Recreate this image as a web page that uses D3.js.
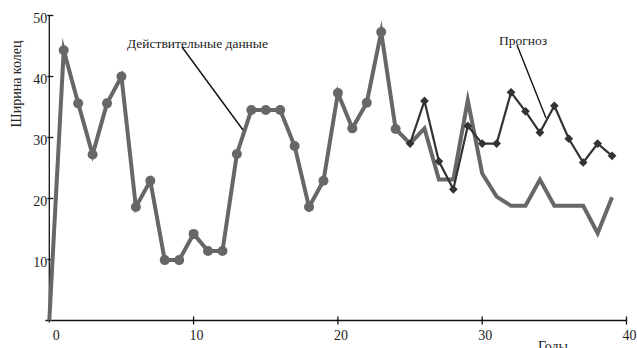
<!DOCTYPE html>
<html>
<head>
<meta charset="utf-8">
<script src="https://cdn.jsdelivr.net/npm/d3@7"></script>
<style>
  body { margin: 0; background: #fff; }
  svg { display: block; font-family: "Liberation Serif", "DejaVu Serif", serif; }
</style>
</head>
<body>
<div id="app"></div>
<script>
// фактические данные (годы 0..39), точки только до 24
const actualYears = d3.range(0, 40);
const actualValues = [0, 44.3, 35.6, 27.2, 35.6, 40.0, 18.6, 22.9, 9.9, 9.9,
  14.2, 11.4, 11.4, 27.3, 34.5, 34.5, 34.5, 28.6, 18.6, 22.9,
  37.3, 31.5, 35.7, 47.3, 31.4, 29.0, 31.5, 23.1, 23.1, 36.1,
  24.1, 20.3, 18.8, 18.8, 23.1, 18.8, 18.8, 18.8, 14.3, 20.2];
const markedUntil = 24;

// прогноз
const forecastYears = d3.range(25, 40);
const forecastValues = [29.0, 36.0, 26.1, 21.5, 31.9, 29.0, 29.0, 37.4, 34.3, 30.8,
  35.2, 29.8, 25.9, 29.0, 27.0];

const xTicks = [10, 20, 30, 40];
const yTicks = [10, 20, 30, 40, 50];
const xTickLabels = ["0", "10", "20", "30", "40"];

const width = 637, height = 348;
const margin = { top: 15.5, right: 10.5, bottom: 27.5, left: 49.3 };

const svg = d3.select("#app").append("svg")
  .attr("width", width)
  .attr("height", height);

const x = d3.scaleLinear().domain([0, 40]).range([margin.left, width - margin.right]);
const y = d3.scaleLinear().domain([0, 50]).range([height - margin.bottom, margin.top]);

const actual = actualYears.map((yr, i) => ({ x: yr, y: actualValues[i] }));
const forecast = forecastYears.map((yr, i) => ({ x: yr, y: forecastValues[i] }));

// оси
const axisColor = "#111";
svg.append("line")
  .attr("x1", x(0) - 4).attr("x2", x(40))
  .attr("y1", y(0)).attr("y2", y(0))
  .attr("stroke", axisColor).attr("stroke-width", 1.3);
svg.append("line")
  .attr("x1", x(0)).attr("x2", x(0))
  .attr("y1", y(50)).attr("y2", y(0) + 2)
  .attr("stroke", axisColor).attr("stroke-width", 1.3);

xTicks.forEach(t => {
  svg.append("line")
    .attr("x1", x(t)).attr("x2", x(t))
    .attr("y1", y(0) - 4).attr("y2", y(0) + 4)
    .attr("stroke", axisColor).attr("stroke-width", 1.3);
});
[0].concat(xTicks).forEach((t, i) => {
  svg.append("text")
    .attr("x", x(t) + (t === 0 ? 7 : 3))
    .attr("y", 340)
    .attr("text-anchor", "middle")
    .attr("font-size", 14)
    .attr("fill", "#222")
    .text(xTickLabels[i]);
});

yTicks.forEach(t => {
  svg.append("line")
    .attr("x1", x(0) - 2).attr("x2", x(0) + 4)
    .attr("y1", y(t)).attr("y2", y(t))
    .attr("stroke", axisColor).attr("stroke-width", 1.3);
  svg.append("text")
    .attr("x", x(0) - 2)
    .attr("y", y(t) + 7)
    .attr("text-anchor", "end")
    .attr("font-size", 14)
    .attr("fill", "#222")
    .text(t);
});

// подписи осей
svg.append("text")
  .attr("transform", "translate(21,84) rotate(-90)")
  .attr("text-anchor", "middle")
  .attr("font-size", 14)
  .attr("fill", "#222")
  .text("Ширина колец");

svg.append("text")
  .attr("x", 553).attr("y", 351)
  .attr("text-anchor", "middle")
  .attr("font-size", 14)
  .attr("fill", "#222")
  .text("Годы");

const line = d3.line().x(d => x(d.x)).y(d => y(d.y));

// фактическая линия (острые углы дают «шипы», как в оригинале)
svg.append("path")
  .datum(actual)
  .attr("fill", "none")
  .attr("stroke", "#676767")
  .attr("stroke-width", 4)
  .attr("stroke-linejoin", "miter")
  .attr("stroke-miterlimit", 10)
  .attr("d", line);

svg.append("g")
  .selectAll("circle")
  .data(actual.filter(d => d.x >= 1 && d.x <= markedUntil))
  .join("circle")
  .attr("cx", d => x(d.x))
  .attr("cy", d => y(d.y))
  .attr("r", 5)
  .attr("fill", "#676767");

// прогноз
svg.append("path")
  .datum(forecast)
  .attr("fill", "none")
  .attr("stroke", "#333")
  .attr("stroke-width", 2.2)
  .attr("stroke-linejoin", "miter")
  .attr("d", line);

const diamond = d3.symbol(d3.symbolSquare, 38);
svg.append("g")
  .selectAll("path")
  .data(forecast)
  .join("path")
  .attr("transform", d => `translate(${x(d.x)},${y(d.y)}) rotate(45)`)
  .attr("d", diamond)
  .attr("fill", "#333");

// аннотации
svg.append("text")
  .attr("x", 127).attr("y", 48)
  .attr("font-size", 13.5)
  .attr("fill", "#222")
  .text("Действительные данные");
svg.append("line")
  .attr("x1", 182).attr("y1", 47)
  .attr("x2", 243).attr("y2", 130)
  .attr("stroke", "#111").attr("stroke-width", 1.4);

svg.append("text")
  .attr("x", 499).attr("y", 45)
  .attr("font-size", 13.5)
  .attr("fill", "#222")
  .text("Прогноз");
svg.append("line")
  .attr("x1", 517).attr("y1", 45)
  .attr("x2", 546).attr("y2", 118)
  .attr("stroke", "#111").attr("stroke-width", 1.4);
</script>
</body>
</html>
